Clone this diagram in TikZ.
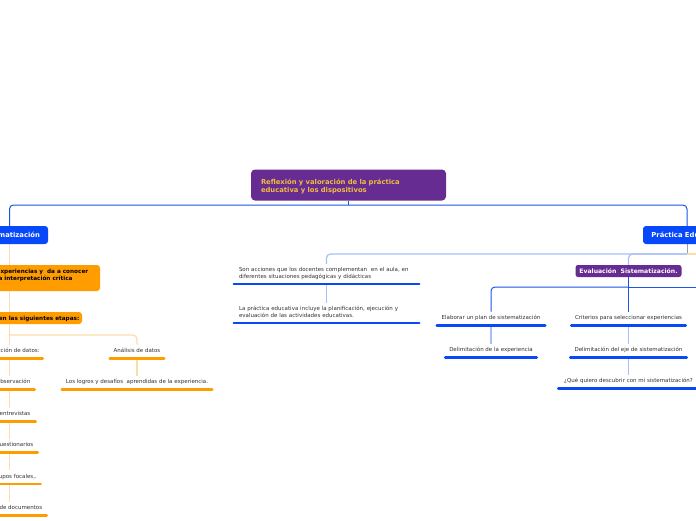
\documentclass[tikz,border=0pt]{standalone}
\usepackage{fontspec}
\setmainfont{DejaVu Sans}
\usetikzlibrary{backgrounds}
\definecolor{mmpurple}{RGB}{103,44,145}
\definecolor{mmgold}{RGB}{240,190,60}
\definecolor{mmblue}{RGB}{6,72,250}
\definecolor{linkblue}{RGB}{25,85,235}
\definecolor{mmorange}{RGB}{255,156,0}
\definecolor{paleorange}{RGB}{252,220,170}
\definecolor{paleblue}{RGB}{168,192,250}
\definecolor{lavgray}{RGB}{160,150,185}
\definecolor{txtgray}{RGB}{50,50,50}
\newcommand{\itemfont}{\fontsize{5.5}{6.8}\selectfont}
\newcommand{\boldfont}{\fontsize{6.8}{7.6}\selectfont\bfseries}
\newcommand{\obfont}{\fontsize{5.7}{7}\selectfont\bfseries}
\newcommand{\evfont}{\fontsize{6.1}{7}\selectfont\bfseries}
\newcommand{\sdp}{\rule[-1.5pt]{0pt}{0pt}}
\newcommand{\tup}{\rule{0pt}{8.5pt}}
\tikzset{
  topbox/.style={fill=mmpurple, rounded corners=4pt, text=mmgold, font=\boldfont, align=left, text width=175pt, inner xsep=10pt, minimum height=31pt},
  bluebox/.style={fill=mmblue, rounded corners=3pt, text=white, font=\boldfont, minimum height=18pt, inner sep=0pt},
  purplebox/.style={fill=mmpurple, rounded corners=2.5pt, text=white, font=\evfont, minimum height=12pt, inner sep=0pt},
  orangebox/.style={fill=mmorange, rounded corners=3pt, inner sep=0pt},
  obtext/.style={font=\obfont, text=black, inner sep=0pt, align=left},
  item/.style={font=\itemfont, text=txtgray, inner xsep=0pt, inner ysep=4pt, text height=4pt, text depth=1.5pt},
  mitem/.style={font=\itemfont, text=txtgray, inner xsep=5pt, inner ysep=3.6pt, align=left, text width=175pt, anchor=south},
  oul/.style={draw=mmorange, line width=2.6pt, line cap=round},
  bul/.style={draw=mmblue, line width=2.6pt, line cap=round},
  oitem/.style={item, append after command={(\tikzlastnode.south west) edge[oul] (\tikzlastnode.south east)}},
  bitem/.style={item, append after command={(\tikzlastnode.south west) edge[bul] (\tikzlastnode.south east)}},
  bmitem/.style={mitem, append after command={(\tikzlastnode.south west) edge[bul] (\tikzlastnode.south east)}},
  bconn/.style={draw=linkblue, line width=1pt, rounded corners=4pt},
  pbconn/.style={draw=paleblue, line width=1.2pt, rounded corners=4pt},
  poconn/.style={draw=paleorange, line width=1.2pt, rounded corners=4pt},
  lgconn/.style={draw=lavgray, line width=1pt},
}
\begin{document}
\begin{tikzpicture}[x=1pt,y=-1pt]
\useasboundingbox (0,0) rectangle (696,520);
% main nodes
\node[topbox] (top) at (348.5,185) {\tup Reflexión y valoración de la práctica\\educativa y los dispositivos};
\node[bluebox, minimum width=77pt] (sist) at (9.5,235) {Sistematización};
\node[bluebox, minimum width=88pt] (prac) at (687,235) {Práctica Educativa};
\coordinate (hub) at (348.5,205);
% left branch
\node[orangebox, minimum width=181pt, minimum height=26pt] (exp) at (9.5,278) {};
\node[obtext, anchor=west] (exptxt) at (-3.5,275) {experiencias y \ da a conocer\\la interpretación crítica};
\node[orangebox, minimum width=145pt, minimum height=12pt] (etapas) at (9.5,318) {};
\node[obtext, anchor=east] (etapastxt) at (79.5,318.5) {en las siguientes etapas:};
\coordinate (split) at (9.5,335);
\node[oitem, minimum width=66pt] (rec) at (9.5,351.5) {Recolección de datos:};
\node[oitem, minimum width=54pt] (anal) at (137,351.5) {Análisis de datos};
\node[oitem, minimum width=150pt] (logros) at (137,382.5) {Los logros y desafíos \ aprendidas de la experiencia.};
\node[oitem, minimum width=50pt] (obs) at (9.5,382.5) {La observación};
\node[oitem, minimum width=52pt] (entr) at (9.5,414.5) {Las entrevistas};
\node[oitem, minimum width=56pt] (cuest) at (9.5,445.5) {Los cuestionarios};
\node[oitem, minimum width=62pt] (grup) at (9.5,477) {Los grupos focales,.};
\node[oitem, minimum width=74pt] (doc) at (9.5,508.5) {Análisis de documentos};
% right branch
\coordinate (hub2) at (687,254);
\coordinate (offr) at (700,254);
\node[bmitem] (son) at (326.5,284) {Son acciones que los docentes complementan \ en el aula, en\\diferentes situaciones pedagógicas y didácticas\sdp};
\node[bmitem] (pe) at (326.5,323) {La práctica educativa incluye la planificación, ejecución y\\evaluación de las actividades educativas.\sdp};
\node[purplebox, minimum width=106pt] (eval) at (628.5,271) {Evaluación \ Sistematización.};
\coordinate (hub3) at (628.5,287);
\coordinate (offr2) at (700,287);
\node[bitem, minimum width=108pt] (elab) at (491,318.5) {Elaborar un plan de sistematización};
\node[bitem, minimum width=91pt] (dlexp) at (491,350.5) {Delimitación de la experiencia};
\node[bitem, minimum width=114pt] (crit) at (628.5,318.5) {Criterios para seleccionar experiencias};
\node[bitem, minimum width=116pt] (dleje) at (628.5,350.5) {Delimitación del eje de sistematización};
\node[bitem, minimum width=140pt] (que) at (628.5,381.5) {¿Qué quiero descubrir con mi sistematización?};
% connectors
\begin{scope}[on background layer]
\fill[white] (0,0) rectangle (696,520);
\draw[bconn] (top.south) -- (hub);
\draw[bconn] (sist.north) |- (hub) -| (prac.north);
\draw[poconn] (sist) -- (exp);
\draw[poconn] (exp) -- (etapas);
\draw[poconn] (etapas) -- (rec);
\draw[poconn] (split) -| (anal);
\draw[poconn] (rec) -- (obs);
\draw[poconn] (obs) -- (entr);
\draw[poconn] (entr) -- (cuest);
\draw[poconn] (cuest) -- (grup);
\draw[poconn] (grup) -- (doc);
\draw[poconn] (anal) -- (logros);
\draw[lgconn] (prac) -- (hub2);
\draw[poconn] (hub2) -- (offr);
\draw[pbconn] (hub2) -| (son);
\draw[pbconn] (hub2) -| (eval);
\draw[pbconn] (son) -- (pe);
\draw[bconn] (eval) -- (crit);
\draw[bconn] (hub3) -| (elab);
\draw[bconn] (hub3) -- (offr2);
\draw[pbconn] (elab) -- (dlexp);
\draw[pbconn] (crit) -- (dleje);
\draw[pbconn] (dleje) -- (que);
\end{scope}
\end{tikzpicture}
\end{document}
